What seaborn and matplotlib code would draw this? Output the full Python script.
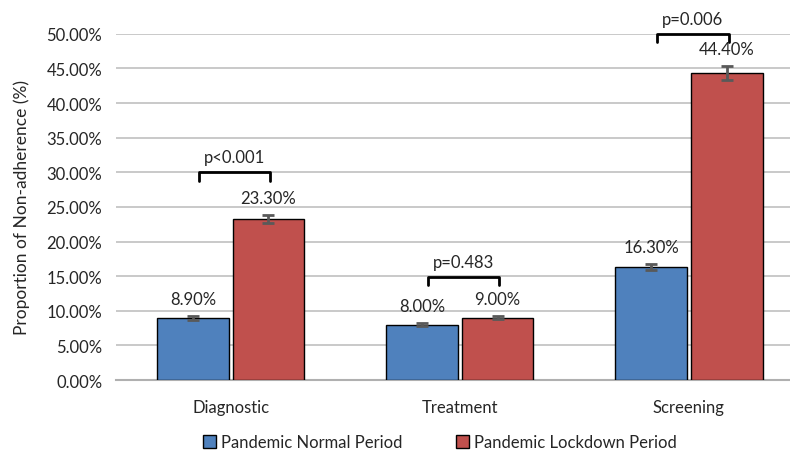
import pandas as pd
import numpy as np
import matplotlib.pyplot as plt
import seaborn as sns

# data
categories = ['Diagnostic', 'Treatment', 'Screening']
normal = [8.90, 8.00, 16.30]
lockdown = [23.30, 9.00, 44.40]
normal_err = [0.30, 0.20, 0.45]
lockdown_err = [0.55, 0.25, 1.00]
p_labels = ['p<0.001', 'p=0.483', 'p=0.006']
p_levels = [30.0, 14.9, 50.0]
series = ['Pandemic Normal Period', 'Pandemic Lockdown Period']

sns.set_theme(style='white')
plt.rcParams['font.family'] = ['Lato', 'DejaVu Sans']

df = pd.DataFrame({
    'category': categories * 2,
    'period': [series[0]] * 3 + [series[1]] * 3,
    'value': normal + lockdown,
})

fig = plt.figure(figsize=(7.9, 4.52), dpi=100)
# plot area runs past the right edge, as in the original
ax = fig.add_axes([0.147, 0.157, 0.87, 0.766])

sns.barplot(data=df, x='category', y='value', hue='period',
            palette=['#4f81bd', '#c0504d'], saturation=1, edgecolor='black',
            linewidth=1.0, width=0.66, gap=0.05, errorbar=None, ax=ax, zorder=3)

# error bars and value labels at bar centres
all_vals = [normal, lockdown]
all_errs = [normal_err, lockdown_err]
for cont, vals, errs in zip(ax.containers, all_vals, all_errs):
    xs = [b.get_x() + b.get_width() / 2 for b in cont]
    ax.errorbar(xs, vals, yerr=errs, fmt='none', ecolor='#595959',
                elinewidth=2, capsize=4, capthick=2, zorder=4)
    for x, v, e in zip(xs, vals, errs):
        ax.text(x, v + e + 1.3, f'{v:.2f}%', ha='center', va='bottom', fontsize=12)

# significance brackets
blue_x = [b.get_x() + b.get_width() / 2 for b in ax.containers[0]]
red_x = [b.get_x() + b.get_width() / 2 for b in ax.containers[1]]
for x1, x2, lvl, lab in zip(blue_x, red_x, p_levels, p_labels):
    x1 += 0.026
    x2 += 0.008
    ax.plot([x1, x1, x2, x2], [lvl - 1.2, lvl, lvl, lvl - 1.2], color='black',
            lw=2, clip_on=False, zorder=5)
    ax.text((x1 + x2) / 2, lvl + 1.0, lab, ha='center', va='bottom', fontsize=12)

ax.set_ylim(0, 50)
ticks = np.arange(0, 50.1, 5)
ax.set_yticks(ticks)
ax.set_yticklabels([f'{t:.2f}%' for t in ticks], fontsize=12)
ax.tick_params(axis='x', labelsize=12, length=0, pad=14)
ax.tick_params(axis='y', length=0, pad=10)
ax.set_xlim(-0.5, 2.5)
ax.yaxis.grid(True, color='#c0c0c0', lw=1.2)
ax.set_axisbelow(True)
for s in ['top', 'right', 'left']:
    ax.spines[s].set_visible(False)
ax.spines['bottom'].set_color('#b0b0b0')
ax.spines['bottom'].set_linewidth(1.5)
ax.set_xlabel('')
ax.set_ylabel('Proportion of Non-adherence (%)', fontsize=12.5, labelpad=12)

handles, labels = ax.get_legend_handles_labels()
ax.get_legend().remove()
fig.legend(handles, labels, loc='center', bbox_to_anchor=(440 / 790, 1 - 443 / 452),
           ncol=2, frameon=False, fontsize=12, handlelength=0.8, handleheight=0.8,
           handletextpad=0.3, columnspacing=3.2)

fig.savefig('out.png', dpi=100)
